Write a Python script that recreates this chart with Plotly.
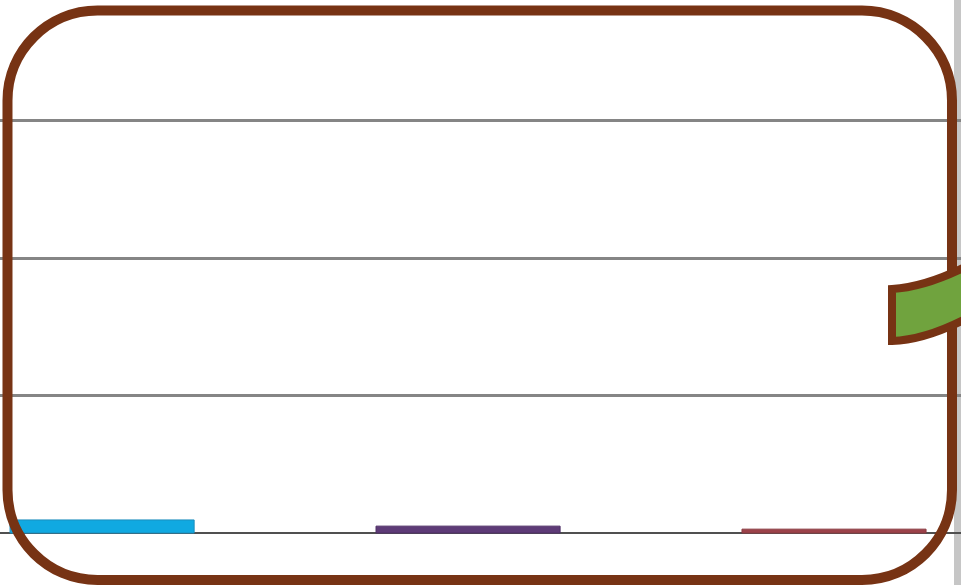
import plotly.graph_objects as go

W, H = 961, 585

categories = ["A", "B", "C"]
values = [0.095, 0.05, 0.028]
bar_colors = ["#10A9E1", "#5E3B77", "#9C424A"]
edge_colors = ["#1B8DBD", "#4E2F66", "#8A3A40"]

BROWN = "#773314"
GREEN = "#70A33E"


def px(x, y):
    return x / W, (H - y) / H


def pt(x, y):
    a, b = px(x, y)
    return f"{a:.5f},{b:.5f}"


def rounded_rect(x0, y0, x1, y1, r):
    k = 0.5523 * r
    p = [
        "M " + pt(x0 + r, y0),
        "L " + pt(x1 - r, y0),
        "C " + pt(x1 - r + k, y0) + " " + pt(x1, y0 + r - k) + " " + pt(x1, y0 + r),
        "L " + pt(x1, y1 - r),
        "C " + pt(x1, y1 - r + k) + " " + pt(x1 - r + k, y1) + " " + pt(x1 - r, y1),
        "L " + pt(x0 + r, y1),
        "C " + pt(x0 + r - k, y1) + " " + pt(x0, y1 - r + k) + " " + pt(x0, y1 - r),
        "L " + pt(x0, y0 + r),
        "C " + pt(x0, y0 + r - k) + " " + pt(x0 + r - k, y0) + " " + pt(x0 + r, y0),
        "Z",
    ]
    return " ".join(p)


green_path = " ".join([
    "M " + pt(892, 289),
    "Q " + pt(928, 287) + " " + pt(975, 262),
    "L " + pt(975, 314),
    "Q " + pt(928, 340) + " " + pt(892, 341),
    "Z",
])

fig = go.Figure()
fig.add_trace(go.Bar(
    x=categories, y=values,
    marker=dict(color=bar_colors, line=dict(color=edge_colors, width=1)),
    width=0.503,
))

fig.update_layout(
    width=W, height=H,
    margin=dict(l=0, r=0, t=0, b=0),
    paper_bgcolor="white", plot_bgcolor="rgba(0,0,0,0)",
    showlegend=False,
    xaxis=dict(range=[-0.279, 2.347], showgrid=False, showticklabels=False,
               zeroline=False, showline=False, ticks=""),
    yaxis=dict(range=[-52 / 137.5, 533 / 137.5], tick0=0, dtick=1,
               showgrid=True, gridcolor="#858585", gridwidth=3,
               zeroline=True, zerolinecolor="#505050", zerolinewidth=2,
               showticklabels=False, ticks="", showline=False),
    shapes=[
        dict(type="rect", xref="paper", yref="paper",
             x0=954 / W, x1=1.0, y0=0, y1=1,
             fillcolor="#c6c6c6", line=dict(width=0), layer="below"),
        dict(type="path", xref="paper", yref="paper",
             path=rounded_rect(7.5, 10.5, 952, 580, 90),
             line=dict(color=BROWN, width=10), fillcolor="rgba(0,0,0,0)",
             layer="above"),
        dict(type="path", xref="paper", yref="paper",
             path=green_path,
             line=dict(color=BROWN, width=8), fillcolor=GREEN,
             layer="above"),
    ],
)

fig.write_html(
    "out.html",
    config={"displayModeBar": False},
    post_script="document.body.style.margin='0';document.body.style.overflow='hidden';",
)
